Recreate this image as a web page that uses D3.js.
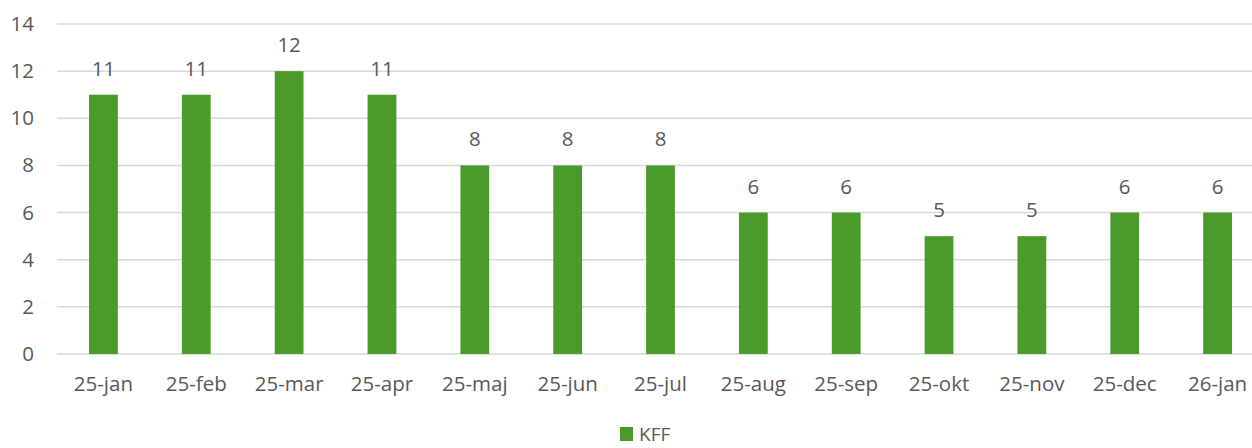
<!DOCTYPE html>
<html>
<head>
<meta charset="utf-8">
<script src="https://cdn.jsdelivr.net/npm/d3@7.9.0/dist/d3.min.js"></script>
<style>
  body { margin: 0; background: #fff; }
  text { font-family: "Open Sans", "Liberation Sans", sans-serif; fill: #595959; }
</style>
</head>
<body>
<div id="chart"></div>
<script>
// data
const months = ['25-jan', '25-feb', '25-mar', '25-apr', '25-maj', '25-jun', '25-jul',
  '25-aug', '25-sep', '25-okt', '25-nov', '25-dec', '26-jan'];
const kff = [11, 11, 12, 11, 8, 8, 8, 6, 6, 5, 5, 6, 6];
const yTicks = [0, 2, 4, 6, 8, 10, 12, 14];
const seriesName = 'KFF';

const width = 1252;
const height = 448;
const green = '#4a9a2c';
const fontSize = '20.5px';

const svg = d3.select('#chart')
  .append('svg')
  .attr('width', width)
  .attr('height', height);

const xScale = d3.scaleBand()
  .domain(months)
  .range([57, 1264])
  .paddingInner(0.69)
  .paddingOuter(0.345);

const yScale = d3.scaleLinear().domain([0, 14]).range([354, 24]);

// gridlines
svg.append('g')
  .selectAll('line')
  .data(yTicks)
  .join('line')
  .attr('x1', 57)
  .attr('x2', width)
  .attr('y1', (d) => yScale(d))
  .attr('y2', (d) => yScale(d))
  .attr('stroke', '#d9d9d9')
  .attr('stroke-width', 1.5);

// y axis labels
const yAxis = svg.append('g')
  .attr('transform', 'translate(34, 0)')
  .call(d3.axisLeft(yScale).tickValues(yTicks).tickSize(0).tickPadding(0));
yAxis.select('.domain').remove();
yAxis.selectAll('text').style('font-size', fontSize).attr('text-anchor', 'end');

// bars
svg.append('g')
  .selectAll('rect')
  .data(kff)
  .join('rect')
  .attr('x', (d, i) => xScale(months[i]))
  .attr('width', xScale.bandwidth())
  .attr('y', (d) => yScale(d))
  .attr('height', (d) => yScale(0) - yScale(d))
  .attr('fill', green);

// value labels
svg.append('g')
  .selectAll('text')
  .data(kff)
  .join('text')
  .attr('x', (d, i) => xScale(months[i]) + xScale.bandwidth() / 2)
  .attr('y', (d) => yScale(d) - 19)
  .attr('text-anchor', 'middle')
  .style('font-size', fontSize)
  .text((d) => d);

// x axis labels
const xAxis = svg.append('g')
  .attr('transform', 'translate(0, 354)')
  .call(d3.axisBottom(xScale).tickSize(0).tickPadding(22));
xAxis.select('.domain').remove();
xAxis.selectAll('text').style('font-size', fontSize);

// legend
const legend = svg.append('g').attr('transform', 'translate(620, 427)');
legend.append('rect')
  .attr('width', 13)
  .attr('height', 14)
  .attr('fill', green);
legend.append('text')
  .attr('x', 19)
  .attr('y', 14)
  .style('font-size', '19px')
  .text(seriesName);
</script>
</body>
</html>
